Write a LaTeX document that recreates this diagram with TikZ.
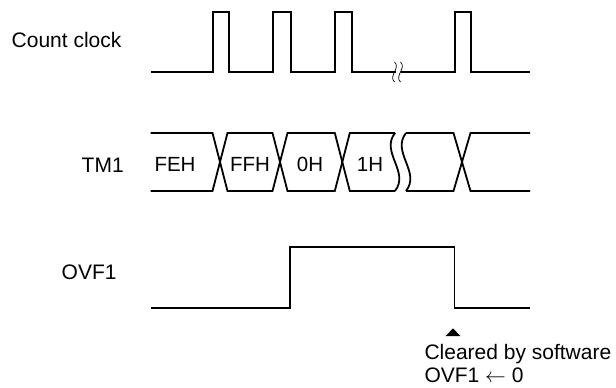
\documentclass[tikz,border=0pt]{standalone}
\usepackage{fontspec}
\setmainfont{Liberation Sans}
\begin{document}
\begin{tikzpicture}[x=1pt,y=-1pt,
  sig/.style={line width=1.8pt, line join=miter},
  brk/.style={line width=0.7pt},
  lbl/.style={inner sep=0pt, anchor=base west, font=\fontsize{21}{24}\selectfont},
  val/.style={inner sep=0pt, anchor=base, font=\fontsize{20.5}{24}\selectfont}]
\useasboundingbox (0,0) rectangle (616,388);

% signal names
\node[lbl] (cc) at (11.5,47.3) {Count clock};
\node[lbl] (tm) at (81.5,172.3) {TM1};
\node[lbl] (ov) at (61.5,279) {OVF1};

% count clock
\draw[sig] (150.7,71.7) -| (212.7,12) -| (228.7,71.7) -| (273.3,12) -| (290.7,71.7) -| (335.3,12) -| (352,71.7) -- (395.5,71.7);
\draw[sig] (401,71.7) -| (454.7,12) -| (471.3,71.7) -- (530,71.7);
\draw[brk] (394.5,62) .. controls (401,68) and (388,76) .. (394.5,82);
\draw[brk] (400.5,62) .. controls (407,68) and (394,76) .. (400.5,82);

% TM1
\draw[sig] (150.7,133) -- (212.5,133) -- (227.5,191) -- (272.5,191) -- (287.5,133) -- (334.8,133) -- (349.8,191) -- (395,191);
\draw[sig] (150.7,191) -- (212.5,191) -- (227.5,133) -- (272.5,133) -- (287.5,191) -- (334.8,191) -- (349.8,133) -- (395,133);
\draw[sig] (395,133) .. controls (380,152) and (410,172) .. (395,191);
\draw[sig] (406,133) .. controls (391,152) and (421,172) .. (406,191);
\draw[sig] (406,133) -- (453.5,133) -- (470.5,191) -- (530,191);
\draw[sig] (406,191) -- (453.5,191) -- (470.5,133) -- (530,133);
\node[val] (v1) at (175,171.5) {FEH};
\node[val] (v2) at (250,171.5) {FFH};
\node[val] (v3) at (310,171.5) {0H};
\node[val] (v4) at (370,171.5) {1H};

% OVF1
\draw[sig] (150.7,308.3) -| (290,246.7) -| (454.5,308.3) -- (530,308.3);

% note
\fill (453,328.3) -- (460.3,336) -- (445.7,336) -- cycle;
\node[lbl] (n1) at (424.3,359) {Cleared by software};
\node[lbl] (n2) at (424.3,382.3) {OVF1 $\leftarrow$ 0};
\end{tikzpicture}
\end{document}
